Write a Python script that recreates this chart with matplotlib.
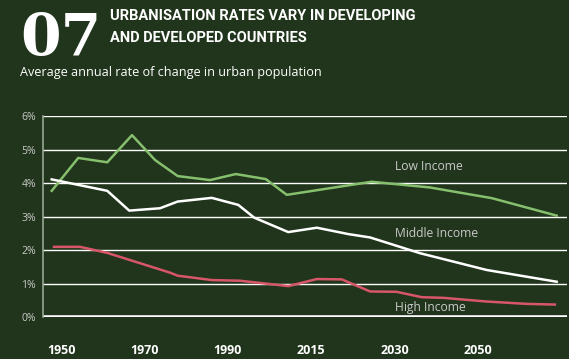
import matplotlib
matplotlib.use("Agg")
import matplotlib.pyplot as plt

# x positions are in "5-year step" units (0 = 1950 ... 20 = 2050)
low_x = [0.0, 1.05, 2.20, 3.18, 4.09, 4.99, 6.27, 7.29, 8.48, 9.31, 12.67, 14.98, 17.44, 20.0]
low_y = [3.77, 4.75, 4.62, 5.43, 4.69, 4.21, 4.09, 4.27, 4.12, 3.65, 4.04, 3.87, 3.55, 3.03]

mid_x = [0.0, 2.20, 3.07, 4.29, 4.99, 6.34, 7.39, 8.02, 9.37, 10.50, 11.49, 11.75, 12.61, 14.59, 17.23, 20.0]
mid_y = [4.11, 3.77, 3.18, 3.25, 3.45, 3.56, 3.35, 2.97, 2.54, 2.67, 2.52, 2.48, 2.38, 1.91, 1.41, 1.06]

high_x = [0.09, 1.12, 2.20, 4.69, 4.99, 6.34, 7.46, 9.37, 10.50, 11.49, 12.61, 13.66, 14.65, 15.51, 17.23, 18.81, 19.93]
high_y = [2.10, 2.10, 1.92, 1.33, 1.24, 1.11, 1.09, 0.93, 1.14, 1.13, 0.77, 0.76, 0.60, 0.58, 0.47, 0.40, 0.38]

year_labels = ["1950", "1970", "1990", "2015", "2030", "2050"]
year_pos = [0.38, 3.67, 6.97, 10.27, 13.6, 16.88]
y_ticks = [0, 1, 2, 3, 4, 5, 6]

bg = "#20351b"
green = "#86bf6e"
red = "#d8566a"
grey = "#c9c9c9"

fig = plt.figure(figsize=(5.69, 3.59), dpi=100, facecolor=bg)
ax = fig.add_axes([43 / 569, 1 - 317.3 / 359, (567 - 43) / 569, (317.3 - 116) / 359])
ax.set_facecolor(bg)

for v in y_ticks[1:]:
    ax.axhline(v, color="white", lw=1.0, zorder=1)
ax.axhline(0, color="white", lw=2.6, zorder=1)

ax.plot(low_x, low_y, color=green, lw=1.8, zorder=3)
ax.plot(mid_x, mid_y, color="white", lw=1.8, zorder=3)
ax.plot(high_x, high_y, color=red, lw=1.8, zorder=3)

ax.text(13.6, 4.49, "Low Income", color=grey, fontsize=8.7, va="center", family="Open Sans")
ax.text(13.6, 2.50, "Middle Income", color=grey, fontsize=8.7, va="center", family="Open Sans")
ax.text(13.6, 0.29, "High Income", color=grey, fontsize=8.7, va="center", family="Open Sans")

ax.set_xlim(-0.345, 20.41)
ax.set_ylim(0, 6)
ax.set_yticks(y_ticks)
ax.set_yticklabels([f"{v}%" for v in y_ticks], color=grey, fontsize=7.5, family="Open Sans")
ax.set_xticks(year_pos)
ax.set_xticklabels(year_labels, color="white", fontsize=9, fontweight="bold", family="Open Sans")
ax.tick_params(axis="y", length=0, pad=5)
ax.tick_params(axis="x", length=0, pad=19)
for s in ["top", "right", "bottom"]:
    ax.spines[s].set_visible(False)
ax.spines["left"].set_color("#9aa596")
ax.spines["left"].set_linewidth(1.2)

fig.text(20 / 569, 1 - 55 / 359, "07", color="white", fontsize=42, fontweight="bold",
         family="DejaVu Serif", va="baseline", ha="left")
fig.text(110 / 569, 1 - 20 / 359, "URBANISATION RATES VARY IN DEVELOPING", color="white",
         fontsize=10.5, fontweight="bold", family="Roboto", va="baseline")
fig.text(110 / 569, 1 - 41.7 / 359, "AND DEVELOPED COUNTRIES", color="white",
         fontsize=10.5, fontweight="bold", family="Roboto", va="baseline")
fig.text(20 / 569, 1 - 76 / 359, "Average annual rate of change in urban population", color="white",
         fontsize=9.1, family="Open Sans", va="baseline")

fig.savefig("out.png", dpi=100, facecolor=bg)
